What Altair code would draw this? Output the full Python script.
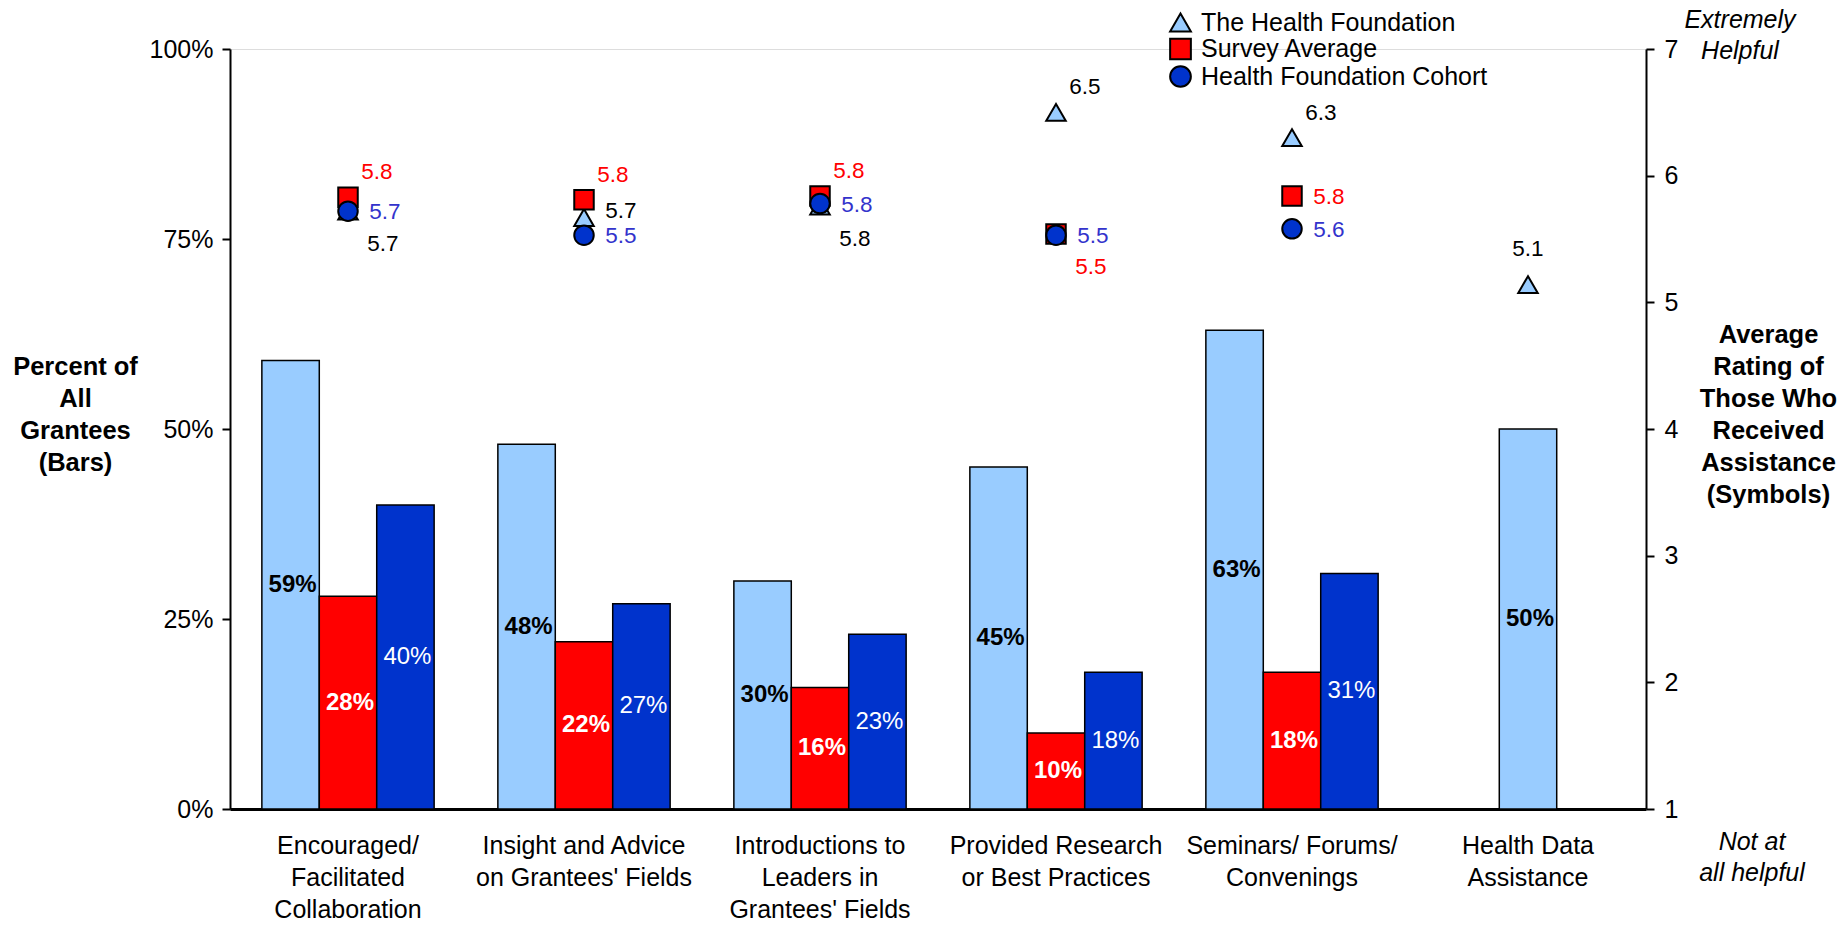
import altair as alt
import pandas as pd

# ---------------- data ----------------
categories = [
    "Encouraged/|Facilitated|Collaboration",
    "Insight and Advice|on Grantees' Fields",
    "Introductions to|Leaders in|Grantees' Fields",
    "Provided Research|or Best Practices",
    "Seminars/ Forums/|Convenings",
    "Health Data|Assistance",
]
series = ["The Health Foundation", "Survey Average", "Health Foundation Cohort"]

# percent of all grantees (bars)
hf_pct = [59, 48, 30, 45, 63, 50]
sa_pct = [28, 22, 16, 10, 18, None]
cohort_pct = [40, 27, 23, 18, 31, None]

# average rating (symbols)
hf_rating = [5.72, 5.67, 5.76, 6.50, 6.30, 5.14]
sa_rating = [5.83, 5.81, 5.84, 5.54, 5.84, None]
cohort_rating = [5.72, 5.53, 5.78, 5.53, 5.58, None]

# where each rating label sits relative to its symbol
hf_label_pos = ["below-right", "right-up", "below-right", "above-right", "above-right", "above"]
sa_label_pos = ["above-right", "above-right", "above-right", "below-right", "right", None]
cohort_label_pos = ["right", "right", "right", "right", "right", None]

fill_colors = ["#99CCFF", "#FF0000", "#0033CC"]
rating_text_colors = ["#000000", "#FF0000", "#3333CC"]

FONT = "Liberation Sans"

# ---------------- tables ----------------
bar_rows = []
for s, vals in zip(series, [hf_pct, sa_pct, cohort_pct]):
    for c, v in zip(categories, vals):
        if v is not None:
            bar_rows.append({"cat": c, "series": s, "pct": v})
bars_df = pd.DataFrame(bar_rows)
bars_df["n"] = bars_df.groupby("cat")["series"].transform("count")

rating_rows = []
for s, vals, poss in zip(series, [hf_rating, sa_rating, cohort_rating],
                         [hf_label_pos, sa_label_pos, cohort_label_pos]):
    for c, v, p in zip(categories, vals, poss):
        if v is not None:
            rating_rows.append({"cat": c, "series": s, "rating": v, "pos": p})
rating_df = pd.DataFrame(rating_rows)

# ---------------- encodings ----------------
x_enc = alt.X(
    "cat:N",
    scale=alt.Scale(domain=categories, paddingInner=0.27, paddingOuter=0.135),
    axis=alt.Axis(
        title=None, labelExpr="split(datum.value, '|')", labelAngle=0,
        labelFontSize=25, labelLineHeight=32, labelPadding=24, labelBaseline="top",
        labelLimit=0, ticks=False, domainWidth=3, domainColor="black",
        labelColor="black", labelFont=FONT,
    ),
)

xoff_enc = alt.XOffset("slot:N", scale=alt.Scale(domain=series, paddingInner=0, paddingOuter=0))

pct_scale = alt.Scale(domain=[0, 100], nice=False, zero=True)
pct_axis = alt.Axis(
    title=["Percent of", "All", "Grantees", "(Bars)"], titleAngle=0,
    titleFontSize=25.5, titleFontWeight="bold", titleLineHeight=32,
    titleAlign="center", titleBaseline="middle", titleX=-155, titleY=317,
    titleColor="black", titleFont=FONT, titleLimit=0,
    values=[0, 25, 50, 75, 100], labelExpr="datum.value + '%'",
    labelFontSize=25, labelColor="black", labelPadding=9, labelFont=FONT,
    tickSize=8, tickWidth=2, tickColor="black", domainWidth=2, domainColor="black",
    grid=False,
)

rating_scale = alt.Scale(domain=[1, 7], nice=False, zero=False)
rating_axis = alt.Axis(
    orient="right",
    title=["Average", "Rating of", "Those Who", "Received", "Assistance", "(Symbols)"],
    titleAngle=0, titleFontSize=25.5, titleFontWeight="bold", titleLineHeight=32,
    titleAlign="center", titleBaseline="middle", titleX=122, titleY=285,
    titleColor="black", titleFont=FONT, titleLimit=0,
    values=[1, 2, 3, 4, 5, 6, 7], format="d",
    labelFontSize=25, labelColor="black", labelPadding=10, labelFont=FONT,
    tickSize=8, tickWidth=2, tickColor="black", domainWidth=2, domainColor="black",
    grid=False,
)

fill_scale = alt.Scale(domain=series, range=fill_colors)

legend = alt.Legend(
    orient="none", legendX=938, legendY=-39, title=None,
    labelFontSize=25, labelFont=FONT, labelColor="black", labelLimit=0,
    symbolSize=430, symbolStrokeWidth=2, symbolStrokeColor="black",
    rowPadding=-1.5, labelOffset=8, padding=0,
)

# ---------------- bars ----------------
bar_base = alt.Chart(bars_df).transform_calculate(
    slot="datum.n == 1 ? 'Survey Average' : datum.series",
    mid="datum.pct / 2",
    label="datum.pct + '%'",
)

bars = bar_base.mark_bar(stroke="black", strokeWidth=1.5).encode(
    x=x_enc, xOffset=xoff_enc,
    y=alt.Y("pct:Q", scale=pct_scale, axis=pct_axis),
    fill=alt.Fill("series:N", scale=fill_scale, legend=legend),
)

label_styles = [
    (series[0], "bold", "black"),
    (series[1], "bold", "white"),
    (series[2], "normal", "white"),
]
bar_labels = []
for s, w, col in label_styles:
    bar_labels.append(
        bar_base.transform_filter(alt.datum.series == s)
        .mark_text(fontSize=24, fontWeight=w, color=col, font=FONT, baseline="middle", dx=2)
        .encode(
            x=x_enc, xOffset=xoff_enc,
            y=alt.Y("mid:Q", scale=pct_scale, axis=pct_axis),
            text="label:N",
        )
    )

bar_layer = alt.layer(bars, *bar_labels)

# ---------------- symbols ----------------
points = alt.Chart(rating_df).mark_point(
    filled=True, size=380, stroke="black", strokeWidth=2, opacity=1
).encode(
    x=x_enc,
    y=alt.Y("rating:Q", scale=rating_scale, axis=rating_axis),
    fill=alt.Fill("series:N", scale=fill_scale, legend=legend),
    shape=alt.Shape("series:N", scale=alt.Scale(domain=series, range=["triangle-up", "square", "circle"]), legend=legend),
)

pos_offsets = {
    "above-right": (29, -25),
    "right": (37, 1),
    "right-up": (37, -6),
    "below-right": (35, 33),
    "above": (0, -36),
}
rating_labels = []
for p, (dx, dy) in pos_offsets.items():
    rating_labels.append(
        alt.Chart(rating_df).transform_filter(alt.datum.pos == p)
        .transform_calculate(label="format(datum.rating, '.1f')")
        .mark_text(fontSize=22.5, font=FONT, dx=dx, dy=dy, baseline="middle", align="center")
        .encode(
            x=x_enc,
            y=alt.Y("rating:Q", scale=rating_scale, axis=rating_axis),
            text="label:N",
            color=alt.Color("series:N", scale=alt.Scale(domain=series, range=rating_text_colors), legend=None),
        )
    )

sym_layer = alt.layer(points, *rating_labels)

# ---------------- annotations ----------------
ann_df = pd.DataFrame({"a": [0]})
top_note = alt.Chart(ann_df).mark_text(
    text=["Extremely", "Helpful"], fontSize=25, fontStyle="italic", font=FONT,
    lineHeight=31, align="center", baseline="middle", color="black",
).encode(x=alt.value(1510), y=alt.value(-29))
bottom_note = alt.Chart(ann_df).mark_text(
    text=["Not at", "all helpful"], fontSize=25, fontStyle="italic", font=FONT,
    lineHeight=31, align="center", baseline="middle", color="black",
).encode(x=alt.value(1522), y=alt.value(793))

chart = alt.layer(bar_layer, sym_layer, top_note, bottom_note).resolve_scale(
    y="independent", color="independent"
).properties(
    width=1416, height=760,
    autosize=alt.AutoSizeParams(type="none"),
    padding={"left": 230, "top": 49, "right": 198, "bottom": 119},
).configure_view(stroke=None).configure(font=FONT, background="white")

chart.save("out.html", embed_options={"renderer": "svg", "actions": False})
